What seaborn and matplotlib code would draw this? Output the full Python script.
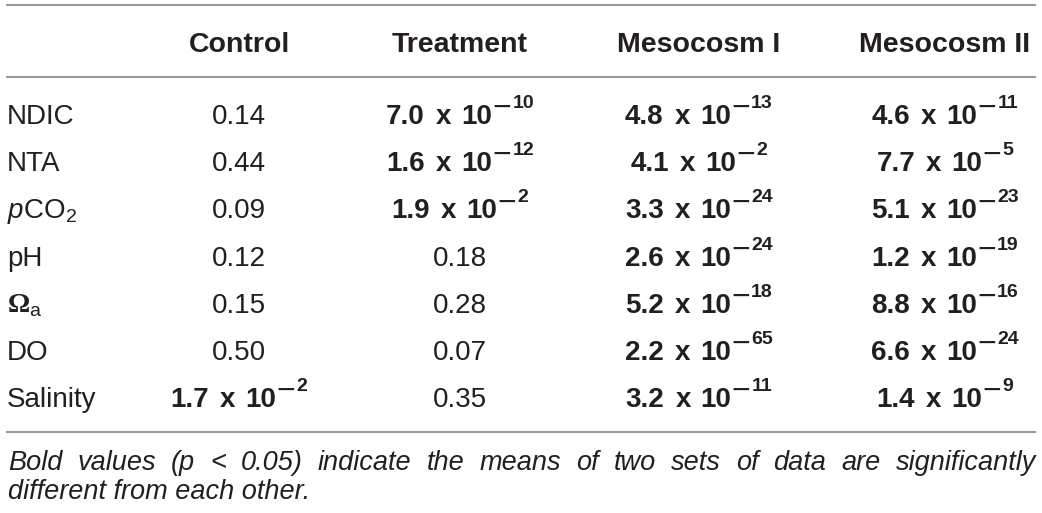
import numpy as np
import matplotlib
matplotlib.use("Agg")
import matplotlib.pyplot as plt
import seaborn as sns

# p-values of the comparisons (rows = variables, columns = groups)
columns = ["Control", "Treatment", "Mesocosm I", "Mesocosm II"]
row_labels = ["NDIC", "NTA", r"$\mathit{p}\mathrm{CO}_{\mathrm{2}}$", "pH",
              r"$\mathsf{\Omega}_{\mathrm{a}}$", "DO", "Salinity"]
control = [0.14, 0.44, 0.09, 0.12, 0.15, 0.50, 1.7e-2]
treatment = [7.0e-10, 1.6e-12, 1.9e-2, 0.18, 0.28, 0.07, 0.35]
meso_1 = [4.8e-13, 4.1e-2, 3.3e-24, 2.6e-24, 5.2e-18, 2.2e-65, 3.2e-11]
meso_2 = [4.6e-11, 7.7e-5, 5.1e-23, 1.2e-19, 8.8e-16, 6.6e-24, 1.4e-9]
alpha = 0.05

footnote_1 = "Bold values (p < 0.05) indicate the means of two sets of data are significantly"
footnote_2 = "different from each other."

sns.set_theme(style="white")
plt.rcParams["font.family"] = ["Liberation Sans", "DejaVu Sans"]
plt.rcParams["mathtext.fontset"] = "custom"
plt.rcParams["mathtext.rm"] = "Liberation Sans"
plt.rcParams["mathtext.it"] = "Liberation Sans:italic"
plt.rcParams["mathtext.bf"] = "Liberation Sans:bold"
plt.rcParams["mathtext.sf"] = "Liberation Serif:bold"

ink = "#231f20"
rule = "#9a9a9a"
fs = 20

fig = plt.figure(figsize=(10.42, 5.13), dpi=100)
ax = fig.add_axes([0, 0, 1, 1])
ax.set_xlim(0, 1042)
ax.set_ylim(513, 0)
ax.axis("off")
renderer = fig.canvas.get_renderer()


def width(t):
    return t.get_window_extent(renderer).width


def sci_cell(xc, yb, p):
    # "m.m x 10" with a raised exponent, centred on xc
    mant, ex = f"{p:.1e}".split("e")
    kw = dict(ha="left", va="baseline", color=ink)
    parts = [ax.text(0, yb, mant, fontsize=fs, fontweight="bold", **kw),
             ax.text(0, yb, "x", fontsize=fs, fontweight="bold", **kw),
             ax.text(0, yb, "10", fontsize=fs, fontweight="bold", **kw),
             ax.text(0, yb - 7, "\u2212", fontsize=fs * 1.15, **kw),
             ax.text(0, yb - 16, str(abs(int(ex))), fontsize=fs * 0.7,
                     fontweight="bold", **kw)]
    gaps = [11, 10, 0, 1.5]
    ws = [width(t) for t in parts]
    x = xc - (sum(ws) + sum(gaps)) / 2
    for t, w, g in zip(parts, ws, gaps + [0]):
        t.set_x(x)
        x += w + g


left, right = 7, 1036
for y in [5, 77, 432]:
    ax.plot([left - 1, right], [y, y], color=rule, lw=1.5, solid_capstyle="butt")

col_x = [239, 460, 699, 945]

for x, name in zip(col_x, columns):
    ax.text(x, 52, name, ha="center", va="baseline", fontsize=20.5,
            fontweight="bold", color=ink)

data = [control, treatment, meso_1, meso_2]
for i, label in enumerate(row_labels):
    yb = 124 + 47.2 * i
    ax.text(left, yb, label, ha="left", va="baseline", fontsize=fs, color=ink)
    for x, col in zip(col_x, data):
        if col[i] < alpha:
            sci_cell(x, yb, col[i])
        else:
            ax.text(x, yb, f"{col[i]:.2f}", ha="center", va="baseline",
                    fontsize=fs, color=ink)

# justified first footnote line
words = footnote_1.split(" ")
texts = [ax.text(0, 470, w, ha="left", va="baseline", fontsize=19.5,
                 style="italic", color=ink) for w in words]
widths = [width(t) for t in texts]
gap = (right - 1 - left - sum(widths)) / (len(words) - 1)
x = left + 1
for t, w in zip(texts, widths):
    t.set_x(x)
    x += w + gap
ax.text(left + 1, 499, footnote_2, ha="left", va="baseline", fontsize=19.5,
        style="italic", color=ink)

fig.savefig("out.png", dpi=100)
